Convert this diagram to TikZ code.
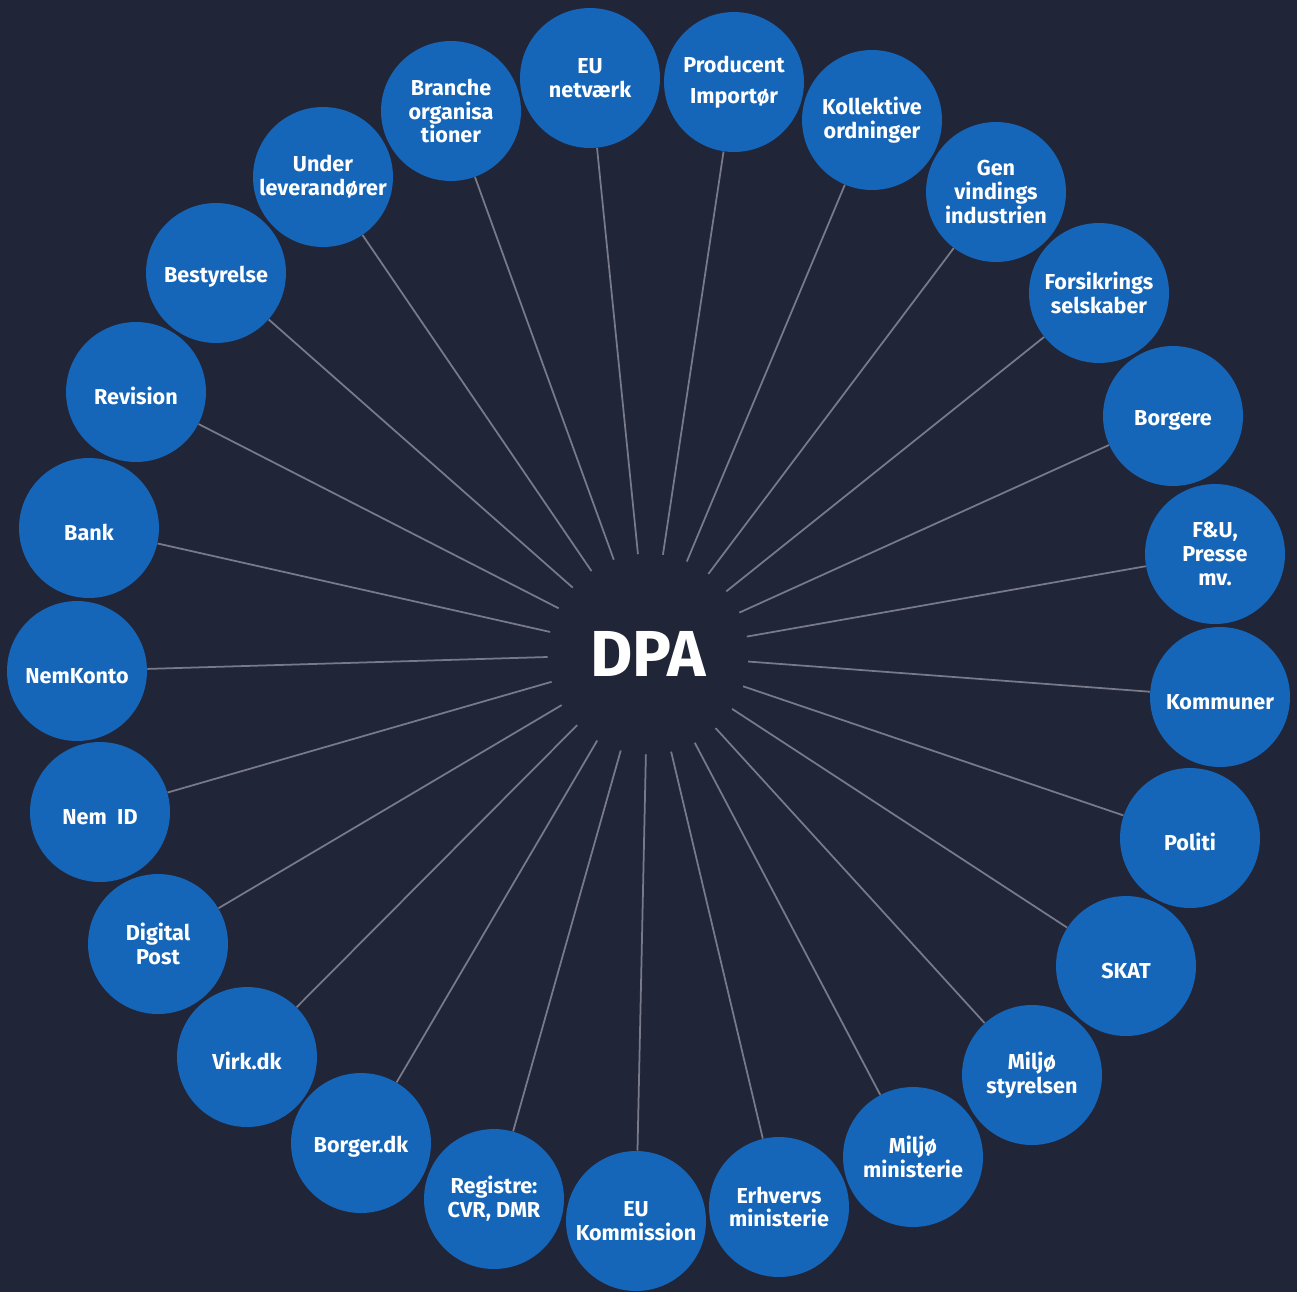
\documentclass[tikz,border=0pt]{standalone}
\usepackage{fontspec}
\setmainfont{Fira Sans}
\usepackage{xcolor}
\usetikzlibrary{shapes,positioning}

\definecolor{navy}{HTML}{212538}
\definecolor{partnerblue}{HTML}{1565B9}
\definecolor{spoke}{HTML}{787A8A}

\begin{document}
\begin{tikzpicture}[x=0.02cm, y=-0.02cm,
    partner/.style={circle, fill=partnerblue, minimum size=2.8cm, inner sep=0pt,
        align=center, text=white, font=\fontsize{12.3}{13.6}\selectfont\bfseries,
        execute at begin node={\rule{0pt}{14pt}}},
    hub/.style={circle, minimum size=4cm, inner sep=0pt, text=white,
        font=\fontsize{37}{40}\selectfont\bfseries},
    link/.style={spoke, line width=1pt}]
% background
\fill[navy] (0,0) rectangle (1297,1292);
\useasboundingbox (0,0) rectangle (1297,1292);

\node[hub] (dpa) at (648,654) {DPA};

% partners, clockwise from the top
\node[partner] (eunet) at (590,78) {EU\\netværk};
\node[partner] (producent) at (734,82) {Producent\\[4pt]Importør};
\node[partner] (kollektive) at (872,120) {Kollektive\\ordninger};
\node[partner] (genvinding) at (996,192) {Gen\\vindings\\industrien};
\node[partner] (forsikring) at (1099,293) {Forsikrings\\selskaber};
\node[partner] (borgere) at (1173,416) {Borgere};
\node[partner] (fu) at (1215,554) {F\&U,\\Presse\\mv.};
\node[partner] (kommuner) at (1220,697) {Kommuner};
\node[partner] (politi) at (1190,838) {Politi};
\node[partner] (skat) at (1126,966) {SKAT};
\node[partner] (mst) at (1032,1075) {Miljø\\styrelsen};
\node[partner] (mim) at (913,1157) {Miljø\\ministerie};
\node[partner] (erhverv) at (779,1207) {Erhvervs\\ministerie};
\node[partner] (eukom) at (636,1221) {EU\\Kommission};
\node[partner] (registre) at (494,1199) {Registre:\\CVR, DMR};
\node[partner] (borgerdk) at (361,1143) {Borger.dk};
\node[partner] (virk) at (247,1057) {Virk.dk};
\node[partner] (digipost) at (158,944) {Digital\\Post};
\node[partner] (nemid) at (100,812) {Nem\ \ ID};
\node[partner] (nemkonto) at (77,671) {NemKonto};
\node[partner] (bank) at (89,528) {Bank};
\node[partner] (revision) at (136,392) {Revision};
\node[partner] (bestyrelse) at (216,273) {Bestyrelse};
\node[partner] (under) at (323,177) {Under\\leverandører};
\node[partner] (branche) at (451,111) {Branche\\organisa\\tioner};

% spokes
\foreach \p in {eunet,producent,kollektive,genvinding,forsikring,borgere,fu,
    kommuner,politi,skat,mst,mim,erhverv,eukom,registre,borgerdk,virk,
    digipost,nemid,nemkonto,bank,revision,bestyrelse,under,branche}
    \draw[link] (dpa) -- (\p);
\end{tikzpicture}
\end{document}
